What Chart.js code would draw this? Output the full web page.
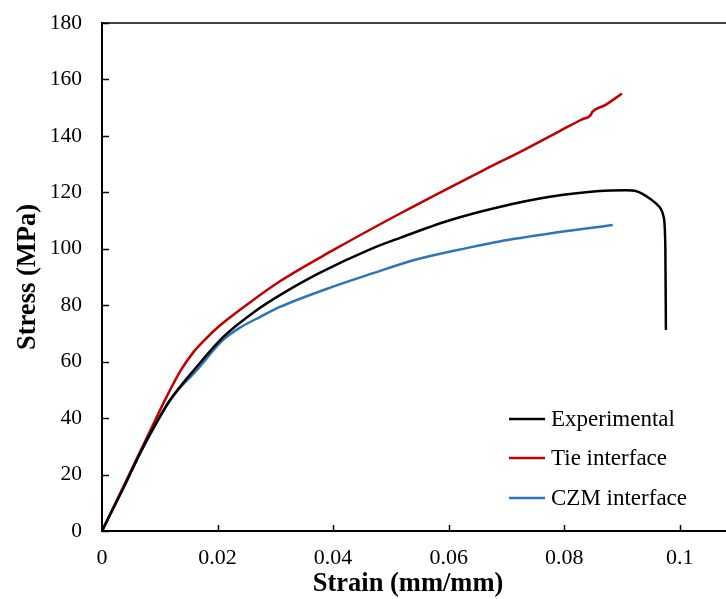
<!DOCTYPE html>
<html>
<head>
<meta charset="utf-8">
<script src="https://cdn.jsdelivr.net/npm/chart.js@4/dist/chart.umd.min.js"></script>
<style>
  html, body { margin: 0; padding: 0; background: #fff; }
  #wrap { width: 726px; height: 599px; }
</style>
</head>
<body>
<div id="wrap"><canvas id="stressChart" width="726" height="599"></canvas></div>
<script>
// values
var seriesNames = ["Experimental", "Tie interface", "CZM interface"];

var expStrain = [0, 0.004, 0.0066, 0.0085, 0.0118, 0.0164, 0.021, 0.0268, 0.0308, 0.0375, 0.0464, 0.0515, 0.0602, 0.0688, 0.0775, 0.0861, 0.0907, 0.0925, 0.0948, 0.0965, 0.0972, 0.0975, 0.0976];
var expStress = [0, 16.5, 27.6, 35, 46.4, 58.2, 68.8, 78.3, 83.6, 91.3, 99.8, 103.8, 110.1, 114.8, 118.4, 120.5, 120.7, 120.4, 117.8, 114.8, 111.3, 100.7, 71.2];

var tieStrain = [0, 0.004, 0.0084, 0.011, 0.0136, 0.0158, 0.018, 0.0204, 0.0256, 0.0308, 0.04, 0.0516, 0.066, 0.0729, 0.0792, 0.083, 0.0845, 0.0849, 0.087, 0.09];
var tieStress = [0, 17, 35.8, 46.8, 56.8, 63.3, 68.2, 72.8, 81, 88.5, 99.5, 112.5, 127.8, 134.9, 141.7, 145.8, 147.2, 148.6, 150.8, 155];

var czmStrain = [0, 0.004, 0.0066, 0.0085, 0.0118, 0.0164, 0.021, 0.024, 0.0274, 0.0308, 0.04, 0.0464, 0.0544, 0.0637, 0.0688, 0.0775, 0.0884];
var czmStress = [0, 16.5, 27.6, 34.8, 46.5, 57, 67.8, 72.2, 75.9, 79.4, 86.6, 91, 96.2, 100.5, 102.6, 105.4, 108.4];

var xTicks = [0, 0.02, 0.04, 0.06, 0.08, 0.1];
var yTicks = [0, 20, 40, 60, 80, 100, 120, 140, 160, 180];

var colors = ["#000000", "#C00000", "#2E75B6"];

function toPoints(xs, ys) {
  return xs.map(function (x, i) { return { x: x, y: ys[i] }; });
}

var serif = "'Liberation Serif', 'Times New Roman', serif";

// inside tick marks, top border, legend and axis titles
var extras = {
  id: "extras",
  afterDraw: function (chart) {
    var c = chart.ctx;
    var xs = chart.scales.x, ys = chart.scales.y;
    var area = chart.chartArea;
    c.save();
    c.strokeStyle = "#000";
    c.lineWidth = 1.5;
    yTicks.forEach(function (v) {
      var py = Math.round(ys.getPixelForValue(v)) + 0.5;
      c.beginPath(); c.moveTo(area.left, py); c.lineTo(area.left + 7, py); c.stroke();
    });
    xTicks.forEach(function (v) {
      var px = Math.round(xs.getPixelForValue(v)) + 0.5;
      c.beginPath(); c.moveTo(px, area.bottom); c.lineTo(px, area.bottom - 6); c.stroke();
    });
    // top border of the plot area
    c.lineWidth = 1.3;
    c.beginPath(); c.moveTo(area.left, area.top); c.lineTo(area.right, area.top); c.stroke();

    // legend
    c.font = "23px " + serif;
    c.textBaseline = "middle";
    c.fillStyle = "#000";
    var rowY = [419, 458, 498];
    chart.data.datasets.forEach(function (ds, i) {
      c.strokeStyle = ds.borderColor;
      c.lineWidth = 2.5;
      c.beginPath(); c.moveTo(509, rowY[i]); c.lineTo(545, rowY[i]); c.stroke();
      c.fillText(ds.label, 551, rowY[i] + 1);
    });

    // axis titles
    c.font = "bold 26.5px " + serif;
    c.textAlign = "center";
    c.textBaseline = "alphabetic";
    c.fillText("Strain (mm/mm)", 408, 591);
    c.translate(35, 277);
    c.rotate(-Math.PI / 2);
    c.fillText("Stress (MPa)", 0, 0);
    c.restore();
  }
};

var datasets = [
  toPoints(expStrain, expStress),
  toPoints(tieStrain, tieStress),
  toPoints(czmStrain, czmStress)
].map(function (pts, i) {
  return {
    label: seriesNames[i],
    data: pts,
    showLine: true,
    borderColor: colors[i],
    backgroundColor: colors[i],
    borderWidth: 2.5,
    pointRadius: 0,
    cubicInterpolationMode: "monotone",
    fill: false
  };
});

// invisible outward tick marks only push the labels away from the axis
var hiddenGrid = function (len) {
  return { display: true, drawOnChartArea: false, drawTicks: true, tickLength: len, color: "rgba(0,0,0,0)" };
};

var ctx = document.getElementById("stressChart").getContext("2d");
var stressChart = new Chart(ctx, {
  type: "scatter",
  data: { datasets: datasets },
  plugins: [extras],
  options: {
    responsive: false,
    animation: false,
    layout: { padding: { top: 23, right: 0, left: 0, bottom: 0 } },
    plugins: { legend: { display: false }, tooltip: { enabled: false } },
    scales: {
      x: {
        type: "linear",
        min: 0,
        max: 0.108,
        afterBuildTicks: function (scale) {
          scale.ticks = xTicks.map(function (v) { return { value: v }; });
        },
        afterFit: function (scale) { scale.height = 68; },
        grid: hiddenGrid(14),
        border: { display: true, color: "#000", width: 2 },
        ticks: {
          padding: 0,
          color: "#000",
          font: { family: serif, size: 22 },
          callback: function (v) { return String(Math.round(v * 100) / 100); }
        }
      },
      y: {
        type: "linear",
        min: 0,
        max: 180,
        afterBuildTicks: function (scale) {
          scale.ticks = yTicks.map(function (v) { return { value: v }; });
        },
        afterFit: function (scale) { scale.width = 102; },
        grid: hiddenGrid(20),
        border: { display: true, color: "#000", width: 2 },
        ticks: {
          padding: 0,
          color: "#000",
          font: { family: serif, size: 21.5 }
        }
      }
    }
  }
});
</script>
</body>
</html>
